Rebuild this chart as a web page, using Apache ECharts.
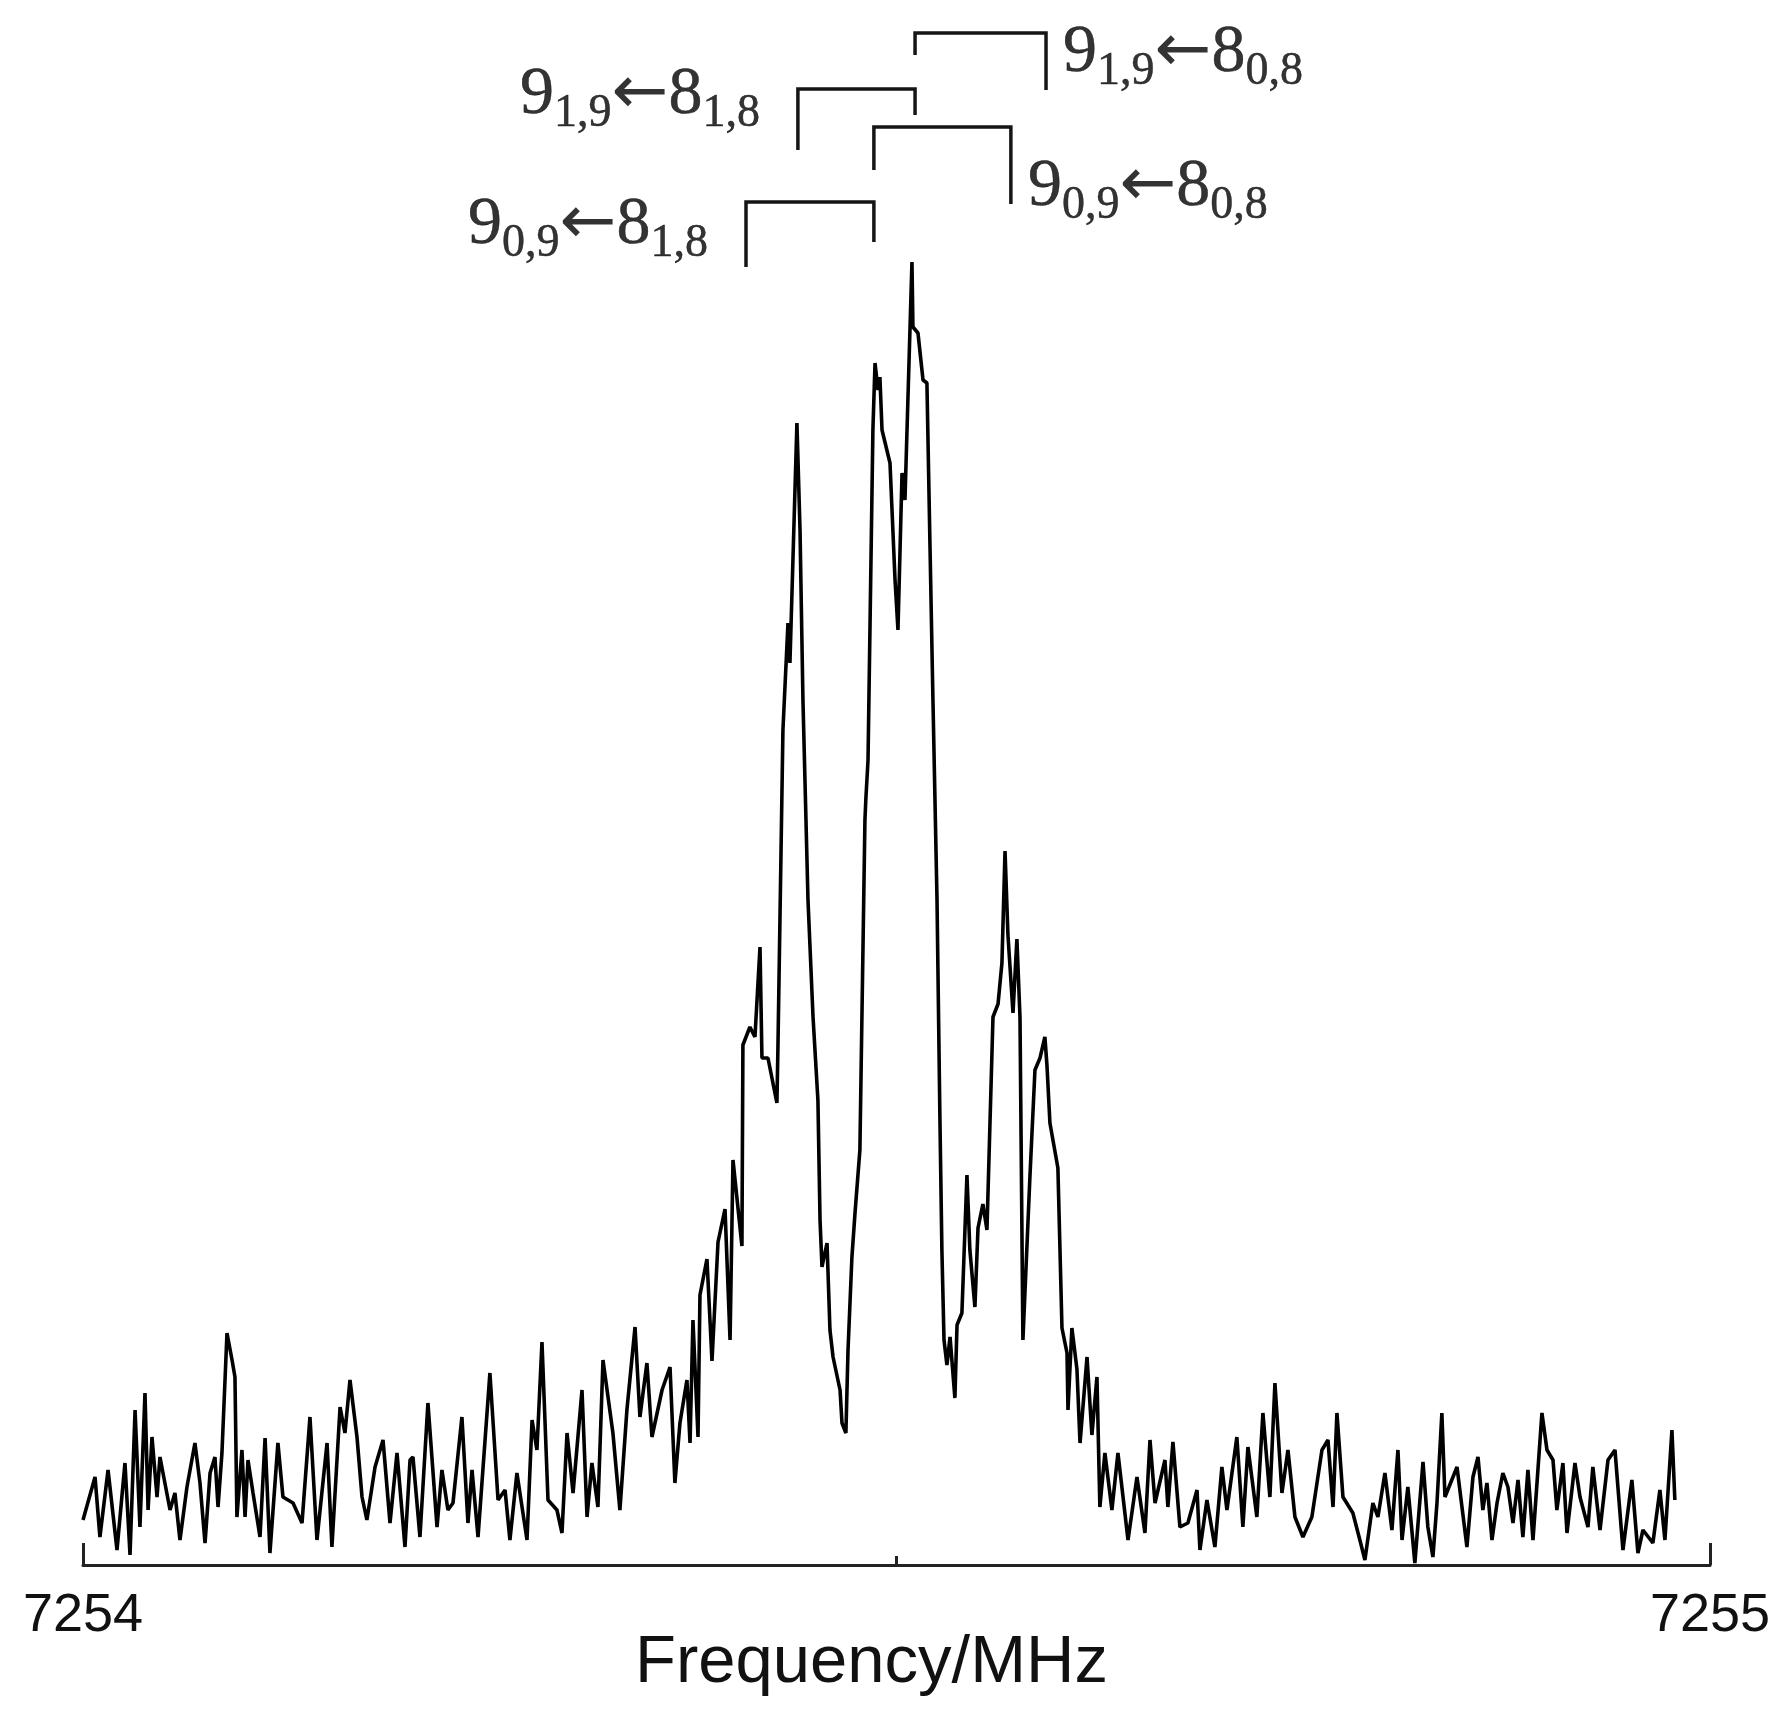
<!DOCTYPE html>
<html><head><meta charset="utf-8">
<script src="https://cdn.jsdelivr.net/npm/echarts@6/dist/echarts.min.js"></script>
<style>html,body{margin:0;padding:0;background:#fff}#c{width:1787px;height:1723px}</style>
</head><body><div id="c"></div>
<script>
// Frequency offsets in kHz above 7254 MHz, intensity in arbitrary units
const BASE_MHZ = 7254;
const noiseLeft = [
[0,4.5],[7.4,8.8],[10.4,2.8],[15.4,9.5],[20.9,1.5],[25.8,10.2],[28.9,1.0],[32.0,15.5],[35.0,3.8],[38.1,17.2],
[40.0,5.5],[42.4,12.8],[45.5,6.8],[47.3,10.8],[53.5,5.5],[56.5,7.2],[59.6,2.5],[63.9,7.8],[68.8,12.2],[71.9,8.2],
[75.0,2.2],[78.1,9.2],[81.1,10.8],[83.0,5.8],[85.4,11.2],[88.5,23.2],[91.6,20.5],[93.4,18.8],[94.6,4.8],[97.7,11.5],
[99.6,4.8],[101.4,10.5],[104.5,7.2],[108.8,2.8],[111.9,12.7],[114.9,1.2],[119.8,12.2],[122.9,6.8],[129.1,6.2],[134.6,4.2],
[139.5,14.8],[143.8,2.5],[150.0,12.2],[153.0,1.8],[158.0,15.8],[161.0,13.2],[164.1,18.5],[168.4,12.8],[171.5,6.8],[174.5,4.5],
[179.5,9.8],[184.4,12.5],[188.7,4.2],[193.0,11.2],[197.9,1.8],[201.0,10.5]
];
const riseLeft = [
[202.8,10.8],[207.1,2.8],[212.0,16.2],[217.6,3.8],[220.6,9.5],[224.3,5.5],[227.4,6.2],[232.9,14.8],[236.6,4.2],[239.1,9.5],
[242.8,2.8],[250.1,19.2],[255.1,6.5],[259.4,7.5],[262.4,2.5],[266.7,9.2],[272.9,2.5],[276.0,14.5],[279.0,11.5],[282.1,22.3],
[285.8,6.5],[291.3,5.5],[294.4,3.2],[297.5,13.2],[301.2,7.2],[306.7,17.5],[309.8,4.8],[312.8,10.2],[316.5,5.8],[319.6,20.5],
[325.7,13.2],[330.0,5.5],[334.3,15.5],[339.3,23.8],[342.3,14.8],[346.6,20.2],[349.7,12.8],[355.9,17.5],[360.8,19.8],[363.8,8.2],
[366.9,14.2],[371.2,18.5],[373.1,12.2],[374.9,24.5],[378.0,12.8]
];
const band = [
[379.2,27.0],[383.5,30.6],[386.6,20.4],[390.3,32.3],[394.6,35.6],[397.7,22.5],[399.5,40.5],[405.0,31.9],[405.6,52.0],[409.9,53.8],
[413.0,52.8],[416.1,61.8],[417.3,50.7],[421.0,50.7],[426.5,46.2],[427.1,51.5],[430.2,83.5],[433.3,94.2],[434.5,90.2],[438.8,114.2],
[440.7,103.5],[442.5,86.5],[445.6,66.5],[448.7,54.8],[451.7,46.5],[453.0,34.5],[454.2,29.8],[457.3,32.2],[459.1,23.5],[461.0,20.8],
[465.3,17.5],[466.5,14.2],[468.9,13.2],[470.2,21.5],[472.6,30.8],[474.5,35.2],[477.5,41.5],[480.6,74.5],[481.2,76.7],[482.5,80.5],
[485.5,113.5],[486.8,120.2],[488.6,117.5],[489.8,118.8],[491.1,113.5],[496.0,110.2],[499.1,98.5],[500.9,93.5],[503.4,109.2],[505.2,106.5],
[509.5,130.3],[510.1,123.8],[513.2,123.2],[516.3,118.5],[518.7,118.2],[520.6,101.8],[522.4,86.5],[524.9,66.5],[526.7,44.5],[527.9,31.5],
[529.2,22.5],[531.0,20.0],[532.9,22.8],[535.9,16.7],[537.2,24.0],[540.2,25.2],[543.3,39.0],[545.1,31.5],[548.2,25.8],[550.1,33.7],
[553.1,36.1],[555.6,33.5],[559.3,54.8],[562.4,56.1],[564.8,60.2],[566.7,71.4],[568.5,63.0],[571.6,55.2],[574.0,62.6],[575.9,54.8],
[577.7,22.5],[582.0,38.8],[585.1,49.5],[588.2,50.7],[591.2,52.8],[592.5,49.9],[594.3,44.2],[599.2,39.7],[601.7,23.7],[604.8,21.2],
[605.4,15.5],[607.8,23.7],[610.9,19.6],[612.8,12.2],[617.1,20.8],[620.1,13.0],[623.2,18.8]
];
const fallRight = [
[625.0,5.8],[628.1,11.2],[632.4,5.5],[636.1,11.2],[642.3,2.5],[647.8,8.8],[652.7,3.2],[655.8,12.5],[658.9,6.2],[665.0,10.5],
[666.8,5.8],[669.9,12.3],[674.2,3.8],[679.1,4.2],[684.7,7.5],[686.5,1.5],[690.8,6.5],[695.7,1.8],[700.0,9.8],[703.1,5.5],
[709.2,12.8],[712.9,3.8],[716.0,11.8],[721.5,4.8],[725.2,15.2],[729.5,6.8],[732.6,18.2],[736.9,7.2],[740.6,11.5],[744.9,4.8],
[749.8,2.8],[755.3,4.8],[761.5,11.5],[765.2,12.5],[768.3,5.8],[770.7,15.2],[774.4,6.8],[780.5,5.2],[784.8,2.5]
];
const noiseRight = [
[787.9,0.5],[792.8,6.2],[795.9,4.8],[800.2,9.2],[804.5,3.5],[808.2,11.5],[810.7,2.5],[814.3,7.8],[818.6,0.2],[823.6,10.3],
[826.6,3.8],[829.7,0.8],[832.2,6.2],[835.2,15.2],[837.1,6.8],[844.5,9.8],[850.6,1.8],[854.3,8.8],[857.4,10.8],[860.4,5.5],
[862.9,8.2],[866.0,2.5],[869.1,6.2],[872.7,9.2],[875.8,7.8],[878.9,4.2],[882.0,8.5],[885.0,2.8],[888.1,9.5],[891.2,2.5],
[896.7,15.2],[899.8,11.5],[903.5,10.5],[905.9,5.5],[909.6,10.2],[912.1,3.2],[917.0,10.2],[920.1,6.8],[925.0,3.8],[928.0,9.8],
[932.4,3.5],[937.3,10.5],[941.6,11.5],[943.4,7.8],[946.5,1.5],[952.0,8.5],[955.7,1.2],[958.8,3.5],[964.9,2.2],[969.2,7.5],
[972.3,2.5],[976.6,13.5],[978.4,6.5]
];
const tickLabels = ['7254', '7255'];
const axisTitle = 'Frequency/MHz';

// Transition brackets (MHz, intensity units)
const bracketLeftMHz  = [7254.5114, 7254.4394, 7254.4861, 7254.4075];
const bracketRightMHz = [7254.5919, 7254.5114, 7254.5703, 7254.4861];
const bracketTop      = [153.2, 147.6, 143.8, 136.3];
const bracketLeftEnd  = [151.0, 141.5, 139.5, 129.8];
const bracketRightEnd = [147.5, 145.0, 136.1, 132.3];
const transUpper = [['9','1,9'], ['9','1,9'], ['9','0,9'], ['9','0,9']];
const transLower = [['8','0,8'], ['8','1,8'], ['8','0,8'], ['8','1,8']];
const labelSide  = ['right', 'left', 'right', 'left'];
const labelLevel = [151.2, 147.0, 137.8, 134.0];

const toMHz = k => BASE_MHZ + k / 1000;
const spectrum = [].concat(noiseLeft, riseLeft, band, fallRight, noiseRight).map(p => [toMHz(p[0]), p[1]]);

const serif = '"Liberation Serif","DejaVu Serif","Times New Roman",serif';
const sans = '"Liberation Sans",Arial,Helvetica,sans-serif';
const ink = '#000';

const bracketSeries = bracketTop.map((t, i) => ({
  type: 'line', xAxisIndex: 0, yAxisIndex: 0, showSymbol: false, silent: true, animation: false,
  lineStyle: {color: '#151515', width: 3.5, join: 'miter'},
  data: [[bracketLeftMHz[i], bracketLeftEnd[i]], [bracketLeftMHz[i], t], [bracketRightMHz[i], t], [bracketRightMHz[i], bracketRightEnd[i]]]
}));

const txt = {color: ink, textBorderColor: ink, textBorderWidth: 0.5};
const labelData = bracketTop.map((t, i) => {
  const side = labelSide[i];
  const x = side === 'right' ? bracketRightMHz[i] : bracketLeftMHz[i];
  return {
    value: [x, labelLevel[i]],
    label: {
      show: true, position: side, distance: side === 'right' ? 17 : 38,
      formatter: '{m|' + transUpper[i][0] + '}{s|' + transUpper[i][1] + '}{a|\u2190}{m|' + transLower[i][0] + '}{s|' + transLower[i][1] + '}',
      rich: {
        m: Object.assign({fontFamily: serif, fontSize: 68, lineHeight: 82}, txt),
        a: {fontFamily: '"DejaVu Sans",sans-serif', fontSize: 68, lineHeight: 82, color: ink},
        s: Object.assign({fontFamily: serif, fontSize: 46, lineHeight: 44, padding: [38, 0, 0, 0]}, txt)
      }
    }
  };
});

const chart = echarts.init(document.getElementById('c'), null, {renderer: 'canvas'});
chart.setOption({
  backgroundColor: '#ffffff',
  animation: false,
  grid: {left: 83, right: 77, top: 15, bottom: 158, containLabel: false},
  xAxis: [{
    type: 'value', min: 7254, max: 7255, interval: 1, position: 'bottom',
    axisLine: {show: true, lineStyle: {color: '#222', width: 3}},
    axisTick: {show: true, inside: true, length: 22, lineStyle: {color: '#222', width: 3}},
    splitLine: {show: false},
    axisLabel: {
      show: true, margin: 24, fontFamily: sans, fontSize: 54, color: '#111',
      showMinLabel: true, showMaxLabel: true,
      formatter: v => (Math.abs(v - 7254) < 1e-6 ? tickLabels[0] : (Math.abs(v - 7255) < 1e-6 ? tickLabels[1] : ''))
    },
    name: axisTitle, nameLocation: 'middle', nameGap: 65, nameMoveOverlap: false,
    nameTextStyle: {fontFamily: sans, fontSize: 67, color: '#111', padding: [0, 50, 0, 0]}
  }, {
    type: 'value', min: 7254, max: 7255, interval: 0.5, position: 'bottom', gridIndex: 0,
    axisLine: {show: false},
    axisTick: {show: true, inside: true, length: 9, lineStyle: {color: '#222', width: 3}},
    axisLabel: {show: false}, splitLine: {show: false}
  }],
  yAxis: {type: 'value', min: 0, max: 155, show: false, splitLine: {show: false}},
  series: [{
    type: 'line', xAxisIndex: 0, data: spectrum, showSymbol: false, silent: true,
    lineStyle: {color: '#000', width: 3.6}, sampling: null
  }].concat(bracketSeries, [{
    type: 'scatter', xAxisIndex: 0, symbolSize: 0, silent: true, data: labelData
  }])
});
</script>
</body></html>
